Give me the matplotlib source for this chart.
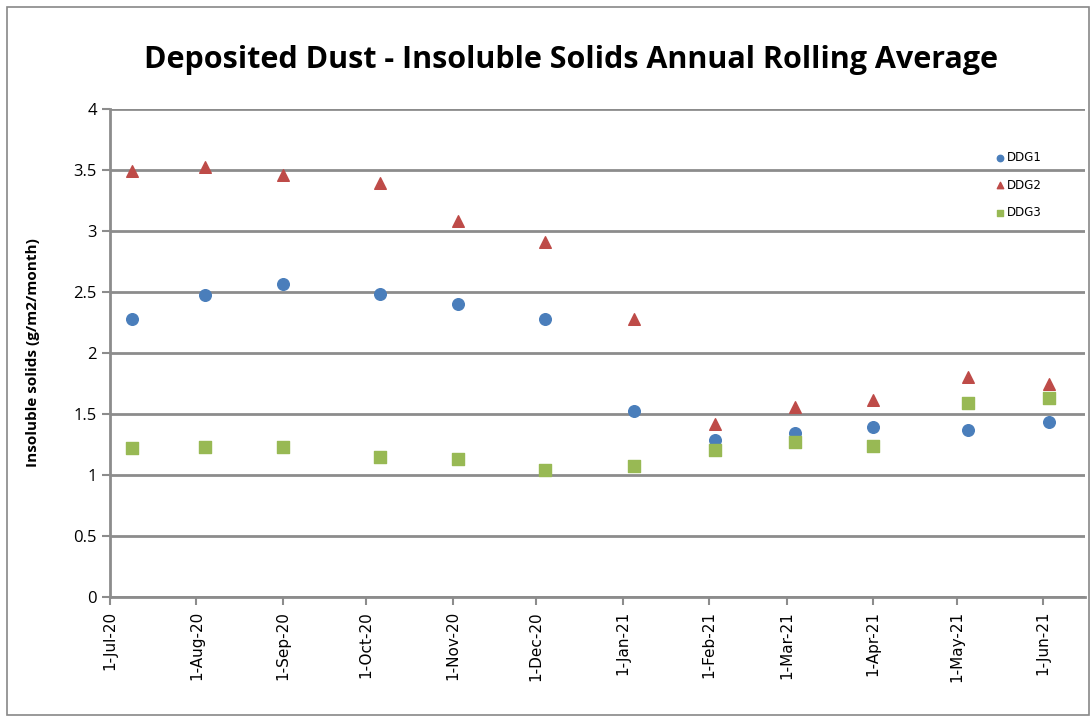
import matplotlib
matplotlib.use("Agg")
import matplotlib.pyplot as plt
from matplotlib.patches import Rectangle
import numpy as np
import datetime as dt

# sample dates
dates = [dt.date(2020, 7, 9), dt.date(2020, 8, 4), dt.date(2020, 9, 1),
         dt.date(2020, 10, 6), dt.date(2020, 11, 3), dt.date(2020, 12, 4),
         dt.date(2021, 1, 5), dt.date(2021, 2, 3), dt.date(2021, 3, 4),
         dt.date(2021, 4, 1), dt.date(2021, 5, 5), dt.date(2021, 6, 3)]
ddg1 = [2.28, 2.475, 2.565, 2.485, 2.40, 2.28, 1.525, 1.287, 1.345, 1.39, 1.366, 1.437]
ddg2 = [3.49, 3.525, 3.455, 3.39, 3.085, 2.91, 2.276, 1.42, 1.555, 1.612, 1.80, 1.75]
ddg3 = [1.224, 1.232, 1.232, 1.15, 1.134, 1.04, 1.077, 1.205, 1.268, 1.238, 1.59, 1.63]

tick_dates = [dt.date(2020, m, 1) for m in range(7, 13)] + [dt.date(2021, m, 1) for m in range(1, 7)]

fig = plt.figure(figsize=(10.91, 7.2), dpi=100)
ax = fig.add_axes([110 / 1091, 1 - 597 / 720, (1085 - 110) / 1091, (597 - 109) / 720])

# chart area border
fig.patches.append(Rectangle((7 / 1091, 5 / 720), 1 - 9 / 1091, 1 - 12 / 720,
                             transform=fig.transFigure, fill=False,
                             edgecolor='#888888', linewidth=1.2))

ax.scatter(dates, ddg1, marker='o', s=70, color='#4a7ebb', label='DDG1', zorder=3)
ax.scatter(dates, ddg2, marker='^', s=70, color='#be4b48', label='DDG2', zorder=3)
ax.scatter(dates, ddg3, marker='s', s=70, color='#98b954', label='DDG3', zorder=3)

ax.set_ylim(0, 4)
ax.set_yticks(np.arange(0, 4.01, 0.5))
ax.set_yticklabels(['0', '0.5', '1', '1.5', '2', '2.5', '3', '3.5', '4'],
                   fontsize=12, family='Open Sans')
ax.set_xlim(dt.date(2020, 7, 1), dt.date(2021, 6, 16))
ax.set_xticks(tick_dates)
ax.set_xticklabels([d.strftime('%-d-%b-%y') for d in tick_dates],
                   rotation=90, fontsize=11, family='DejaVu Sans')

ax.grid(axis='y', color='#8c8c8c', linewidth=2)
ax.set_axisbelow(True)
for s in ['top', 'right']:
    ax.spines[s].set_visible(False)
for s in ['left', 'bottom']:
    ax.spines[s].set_color('#8c8c8c')
    ax.spines[s].set_linewidth(2)
ax.tick_params(axis='both', direction='out', length=6, width=1.5, color='#8c8c8c')
ax.tick_params(axis='x', pad=4)

ax.set_ylabel('Insoluble solids (g/m2/month)', fontsize=11, fontweight='bold',
              family='Open Sans', labelpad=24)
fig.text(0.523, 0.917, 'Deposited Dust - Insoluble Solids Annual Rolling Average',
         ha='center', va='center', fontsize=22, fontweight='bold', family='Open Sans')

leg = ax.legend(loc='upper left', bbox_to_anchor=(0.896, 0.935), frameon=False,
                fontsize=8.5, markerscale=0.55, handletextpad=0.1, labelspacing=1.2,
                handlelength=1)

fig.savefig('out.png', dpi=100)
